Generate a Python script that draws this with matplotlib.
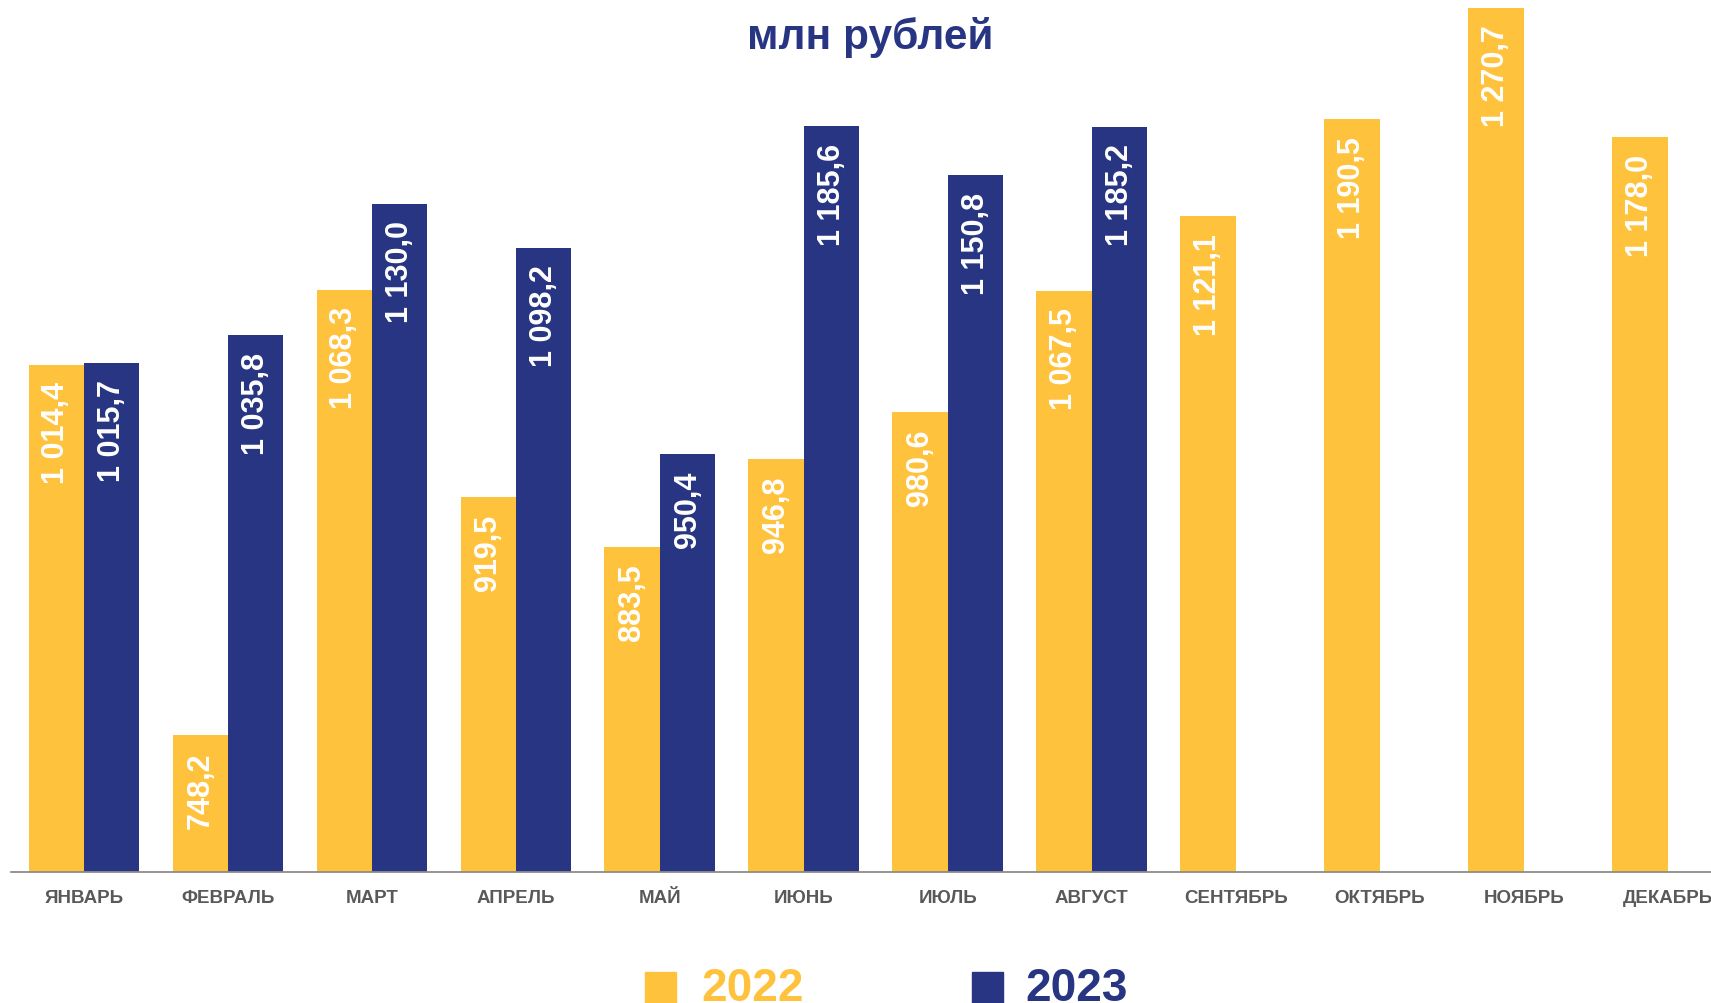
import matplotlib
matplotlib.use("Agg")
import matplotlib.pyplot as plt
from matplotlib.patches import Rectangle
import numpy as np

plt.rcParams['font.family'] = ['Liberation Sans', 'DejaVu Sans']

months = ["ЯНВАРЬ", "ФЕВРАЛЬ", "МАРТ", "АПРЕЛЬ", "МАЙ", "ИЮНЬ",
          "ИЮЛЬ", "АВГУСТ", "СЕНТЯБРЬ", "ОКТЯБРЬ", "НОЯБРЬ", "ДЕКАБРЬ"]
vals_2022 = [1014.4, 748.2, 1068.3, 919.5, 883.5, 946.8,
             980.6, 1067.5, 1121.1, 1190.5, 1270.7, 1178.0]
vals_2023 = [1015.7, 1035.8, 1130.0, 1098.2, 950.4, 1185.6,
             1150.8, 1185.2]
series_names = ["2022", "2023"]

yellow = '#FFC23D'
navy = '#283582'

W, H = 1711, 1004
fig = plt.figure(figsize=(W / 100, H / 100), dpi=100)
ax = fig.add_axes([11 / W, 131 / H, 1 - 11 / W, 873 / H])

x = np.arange(len(months))
w = 0.385


def fmt(v):
    return f"{v:,.1f}".replace(',', ' ').replace('.', ',')


b1 = ax.bar(x[:len(vals_2022)] - w / 2, vals_2022, w, color=yellow)
b2 = ax.bar(x[:len(vals_2023)] + w / 2, vals_2023, w, color=navy)

for bars, vals in ((b1, vals_2022), (b2, vals_2023)):
    for rect, v in zip(bars, vals):
        ax.annotate(fmt(v), (rect.get_x() + rect.get_width() / 2, v),
                    xytext=(0, -12), textcoords='offset points',
                    rotation=90, ha='center', va='top',
                    color='white', fontsize=22, fontweight='bold')

ax.set_xlim(-0.507, 11.30)
ax.set_ylim(650, 1277)
ax.set_xticks(x)
ax.set_xticklabels(months, fontsize=13.5, fontweight='bold', color='#595959')
ax.tick_params(axis='x', length=0, pad=12)
ax.set_yticks([])
for s in ('top', 'right', 'left'):
    ax.spines[s].set_visible(False)
ax.spines['bottom'].set_color('#8c8c8c')
ax.spines['bottom'].set_linewidth(1.3)

fig.text(870 / W, 1 - 38 / H, "млн рублей", ha='center', va='center',
         fontsize=30.5, fontweight='bold', color=navy)

# legend
sq = 31
for x0, tx, name, c in ((645, 701, series_names[0], yellow),
                        (972, 1025, series_names[1], navy)):
    fig.add_artist(Rectangle((x0 / W, 1 - 1004 / H), sq / W, sq / H,
                             transform=fig.transFigure, color=c))
    fig.text(tx / W, 1 - 1001 / H, name, ha='left', va='baseline',
             fontsize=33, fontweight='bold', color=c)

fig.savefig("out.png", dpi=100)
